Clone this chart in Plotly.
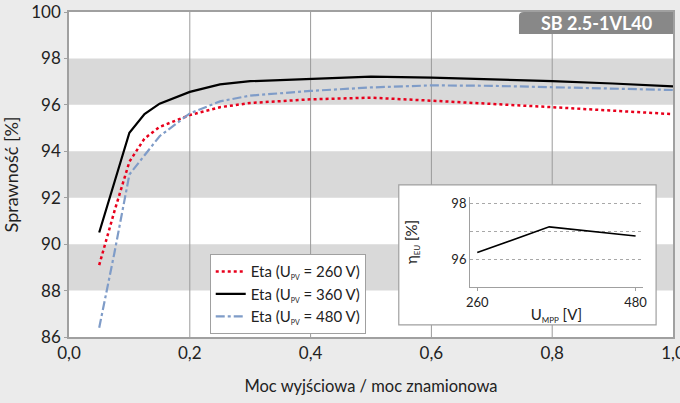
import plotly.graph_objects as go

# ---- data ----
load = [0.05, 0.075, 0.1, 0.125, 0.15, 0.2, 0.25, 0.3, 0.4, 0.5, 0.6, 0.7, 0.8, 0.9, 1.0]
eta_260 = [89.1, 91.4, 93.55, 94.55, 95.05, 95.56, 95.9, 96.08, 96.24, 96.31, 96.18, 96.05, 95.9, 95.75, 95.6]
eta_360 = [90.5, 92.6, 94.8, 95.6, 96.05, 96.56, 96.88, 97.02, 97.11, 97.22, 97.17, 97.1, 97.02, 96.92, 96.8]
eta_480 = [86.4, 89.6, 93.0, 93.85, 94.65, 95.63, 96.15, 96.4, 96.6, 96.75, 96.84, 96.82, 96.76, 96.7, 96.64]

u_mpp = [260, 360, 480]
eta_eu = [96.24, 97.17, 96.84]

x_ticks = [0.0, 0.2, 0.4, 0.6, 0.8, 1.0]
x_ticklabels = ["0,0", "0,2", "0,4", "0,6", "0,8", "1,0"]
y_ticks = [86, 88, 90, 92, 94, 96, 98, 100]
bands = [(88, 90), (92, 94), (96, 98)]

FONT = "Lato"
TXT = "#222222"
GRID = "#9a9a9a"
BAND = "#d9d9d9"

fig = go.Figure()

sub = '<sub><span style="font-size:7px">PV</span></sub>'
fig.add_trace(go.Scatter(x=load, y=eta_260, mode="lines", name=f"Eta (U{sub} = 260 V)",
                         line=dict(color="#e8001c", width=2.5, dash="dot")))
fig.add_trace(go.Scatter(x=load, y=eta_360, mode="lines", name=f"Eta (U{sub} = 360 V)",
                         line=dict(color="#000000", width=2.2)))
fig.add_trace(go.Scatter(x=load, y=eta_480, mode="lines", name=f"Eta (U{sub} = 480 V)",
                         line=dict(color="#7f9cc8", width=2.2, dash="dashdot")))

fig.add_trace(go.Scatter(x=u_mpp, y=eta_eu, mode="lines", xaxis="x2", yaxis="y2",
                         showlegend=False, line=dict(color="#000000", width=1.6)))

shapes = []
for lo, hi in bands:
    shapes.append(dict(type="rect", xref="x", yref="y", x0=0, x1=1, y0=lo, y1=hi,
                       fillcolor=BAND, line=dict(width=0), layer="below"))
for xv in x_ticks[1:-1]:
    shapes.append(dict(type="line", xref="x", yref="y", x0=xv, x1=xv, y0=86, y1=100,
                       line=dict(color=GRID, width=1), layer="below"))
# inset frame (in main axis units)
shapes.append(dict(type="rect", xref="x", yref="y", x0=0.546, x1=0.972, y0=86.52, y1=92.55,
                   fillcolor="white", line=dict(color="#a0a0a0", width=1.2), layer="below"))
# title box
shapes.append(dict(type="path", xref="paper", yref="paper",
                   path="M 0.745,0.932 L 0.745,0.988 Q 0.745,1 0.753,1 L 1,1 L 1,0.932 Z",
                   fillcolor="#888888", line=dict(width=0), layer="above"))

annotations = [
    dict(text="<b>SB 2.5-1VL40</b>", xref="paper", yref="paper", x=0.873, y=0.966,
         showarrow=False, font=dict(family=FONT, size=18, color="white"),
         xanchor="center", yanchor="middle"),
]

fig.update_layout(
    width=680, height=403,
    margin=dict(l=69, r=7, t=12, b=66),
    paper_bgcolor="#ebebeb",
    plot_bgcolor="white",
    font=dict(family=FONT, size=16, color=TXT),
    shapes=shapes,
    annotations=annotations,
    xaxis=dict(range=[0, 1], tickvals=x_ticks, ticktext=x_ticklabels, showgrid=False,
               zeroline=False, showline=True, linecolor="#a0a0a0", linewidth=1.5, mirror=True,
               ticks="", tickfont=dict(size=17, color=TXT), automargin=False,
               ticklabeloverflow="allow",
               title=dict(text="Moc wyjściowa / moc znamionowa", standoff=18,
                          font=dict(size=16.5, color=TXT))),
    yaxis=dict(range=[86, 100], tickvals=y_ticks, showgrid=False, zeroline=False,
               showline=True, linecolor="#a0a0a0", linewidth=1.5, mirror=True,
               ticks="outside", ticklen=3, tickcolor="#a0a0a0", automargin=False,
               ticklabeloverflow="allow",
               tickfont=dict(size=17, color=TXT),
               title=dict(text="Sprawność [%]", standoff=8, font=dict(size=18, color=TXT))),
    xaxis2=dict(domain=[0.664, 0.950], anchor="y2", range=[250, 490], tickvals=[260, 480],
                showgrid=False, zeroline=False, showline=True, linecolor="#a0a0a0", linewidth=1,
                ticks="outside", ticklen=3, tickcolor="#a0a0a0", automargin=False,
                tickfont=dict(size=13, color=TXT),
                title=dict(text='U<sub><span style="font-size:8px">MPP</span></sub> [V]',
                           standoff=0, font=dict(size=15, color=TXT))),
    yaxis2=dict(domain=[0.154, 0.431], anchor="x2", range=[95, 98.25],
                tickvals=[96, 97, 98], ticktext=["96", "", "98"],
                showgrid=True, gridcolor="#a8a8a8", griddash="dot", gridwidth=1,
                zeroline=False, showline=True, linecolor="#a0a0a0", linewidth=1,
                ticks="", tickfont=dict(size=13, color=TXT), automargin=False,
                title=dict(text='η<sub><span style="font-size:8px">EU</span></sub> [%]',
                           standoff=30, font=dict(size=15, color=TXT))),
    legend=dict(x=0.233, y=0.255, xanchor="left", yanchor="top",
                bgcolor="white", bordercolor="#a0a0a0", borderwidth=1,
                font=dict(family=FONT, size=15, color=TXT), tracegroupgap=0,
                itemwidth=30),
)

fig.write_html("out.html", config={"displayModeBar": False},
               post_script="document.body.style.margin='0';")
